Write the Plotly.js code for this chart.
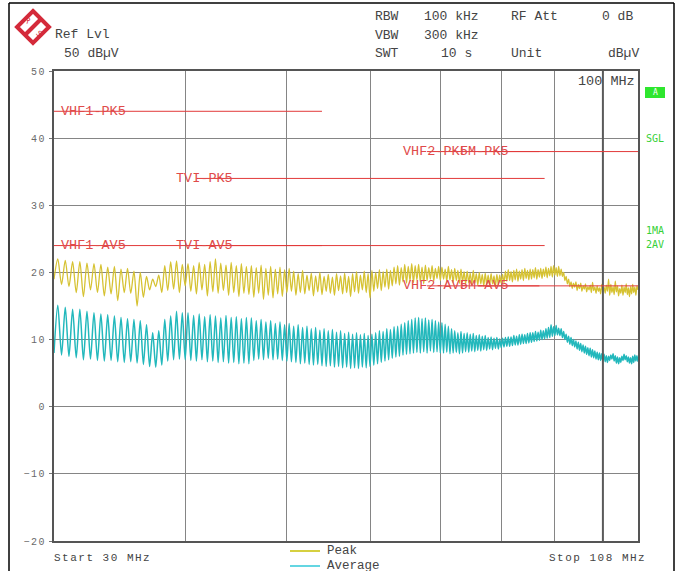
<!DOCTYPE html>
<html>
<head>
<meta charset="utf-8">
<script src="https://cdn.plot.ly/plotly-3.0.1.min.js"></script>
<style>
  html, body { margin: 0; padding: 0; background: #fff; }
  #chart { width: 683px; height: 571px; }
  .ytick text { letter-spacing: 1.5px; }
</style>
</head>
<body>
<div id="chart"></div>
<script>
// Sweep settings (MHz). Readings alternate trough / crest every half ripple period.
const sweepStart = 30;
const sweepStop = 108;
const sweepStep = 0.25;

// Average detector: troughs at 30, 30.5, ... 108 MHz
const avgLo = [
  8.0, 7.7, 7.5, 7.3, 7.0, 7.1, 6.9, 6.8, 6.9, 6.7, 6.6, 6.7, 6.5, 6.3, 6.0, 5.9, 6.2, 6.8, 7.0, 7.1, 7.0,
  6.9, 6.8, 7.0, 6.7, 6.8, 6.6, 6.7, 6.5, 6.6, 6.4, 6.5, 6.4,
  6.9, 7.1, 7.0, 7.2, 7.0, 7.1, 6.9, 6.8,
  6.7, 6.6, 6.4, 6.5, 6.3, 6.2, 6.3, 6.1, 6.0, 6.1, 5.9, 6.0, 5.8, 5.9, 5.7, 5.8, 5.7, 5.9, 5.8, 6.0,
  6.2, 6.4, 6.6, 6.8, 7.0, 7.2, 7.4, 7.5, 7.7, 7.8, 7.9, 8.0, 8.1, 8.0,
  8.2, 8.0, 8.3, 8.1, 8.2, 8.0,
  8.0, 8.1, 7.9, 8.0, 8.1, 7.9, 8.0, 8.2, 8.1, 8.3, 8.2, 8.4, 8.3, 8.5, 8.4, 8.6, 8.5, 8.7, 8.6, 8.8,
  8.9, 9.0, 9.0, 9.1, 9.2, 9.2, 9.3, 9.4, 9.4, 9.5, 9.6, 9.7, 9.8, 9.9, 10.0, 10.1, 10.2, 10.3, 10.5, 10.6, 10.7, 10.6,
  10.3, 10.0, 9.6, 9.3, 9.1, 8.9, 8.6, 8.4, 8.2, 8.0, 7.8, 7.6, 7.4, 7.3, 7.1, 7.0, 6.9, 6.8,
  6.7, 6.6, 6.9, 7.1, 6.8, 6.5, 6.4, 6.6, 6.9, 7.0, 6.7, 6.5, 6.4, 6.6, 6.8, 6.7
];
// Average detector: crests at 30.25, 30.75, ... 107.75 MHz
const avgHi = [
  15.1, 14.8, 14.5, 14.5, 14.2, 14.0, 13.8, 13.7, 13.5, 13.3, 13.1, 13.0, 12.8, 12.2, 11.0, 11.3, 13.0, 13.5, 14.2, 14.0,
  14.0, 13.6, 13.8, 13.4, 13.7, 13.5, 13.2, 13.6, 13.3, 13.4, 13.1, 13.3,
  13.2, 12.8, 13.0, 12.6, 12.8, 12.4, 12.6, 12.2, 12.4,
  12.0, 12.2, 11.8, 12.0, 11.6, 11.8, 11.4, 11.6, 11.3, 11.5, 11.1, 11.3, 10.9, 11.1, 10.8, 11.0, 10.7, 10.9, 10.6, 10.8,
  11.0, 11.3, 11.2, 11.6, 11.5, 11.9, 12.0, 12.3, 12.5, 12.8, 13.0, 13.2, 13.3,
  13.1, 13.2, 12.9, 13.0, 12.8, 12.6,
  12.5, 12.3, 12.0, 11.6, 11.3,
  11.0, 11.2, 10.9, 11.0, 10.8, 10.9, 10.6, 10.7, 10.5, 10.6, 10.3, 10.4, 10.2, 10.3, 10.1,
  10.2, 10.3, 10.4, 10.4, 10.6, 10.5, 10.7, 10.8, 10.7, 10.9, 11.0, 11.0, 11.2, 11.1, 11.4, 11.3, 11.6, 11.8, 12.2, 11.9, 12.1, 11.7,
  11.6, 11.2, 10.8, 10.5, 10.3, 10.0, 9.8, 9.6, 9.4, 9.2, 9.0, 8.8, 8.7, 8.5, 8.3, 8.1, 8.0, 7.9,
  7.8, 7.6, 7.5, 7.7, 7.9, 7.6, 7.4, 7.3, 7.5, 7.8, 7.6, 7.4, 7.3, 7.5, 7.7, 7.6
];

// Peak detector: troughs at 30, 30.5, ... 108 MHz
const pkLo = [
  19.0, 18.2, 17.9, 17.0, 16.4, 17.4, 17.0, 16.5, 16.8, 15.8, 17.0, 16.9, 15.0, 16.3, 17.4, 17.9, 17.0, 17.3, 17.5, 17.0, 18.0,
  17.2, 16.8, 17.4, 16.5, 17.1, 16.9, 17.3, 16.6, 17.0, 16.4, 16.9, 16.7,
  16.3, 16.9, 16.0, 16.6, 16.2, 16.8, 16.4, 17.0,
  17.2, 16.6, 17.0, 16.8, 17.3, 16.5, 17.1, 16.7, 17.2, 16.9, 16.6, 17.3, 16.8, 17.0, 16.4, 17.1, 16.9, 17.4, 17.0, 16.2,
  17.2, 17.6, 17.3, 17.8, 17.5, 18.0, 18.3, 18.1, 18.6, 18.4, 18.8, 18.5, 18.9, 18.6, 18.3, 18.8, 19.0, 18.7, 19.1, 18.8,
  19.0, 18.7, 18.9, 18.5, 18.8, 18.4, 18.6, 18.3, 18.5, 18.2, 18.4, 18.1, 18.3, 18.0, 18.2, 18.1, 18.3, 18.0, 18.2, 18.4,
  18.5, 18.7, 18.8, 18.6, 18.9, 18.7, 19.0, 18.8, 19.1, 18.9, 19.0, 19.2, 19.0, 19.3, 19.1, 19.4, 19.2, 19.5, 19.3, 19.6, 19.4, 19.5,
  19.4, 18.8, 18.3, 17.9, 17.6, 17.8, 17.3, 17.6, 17.2, 17.5, 17.1, 17.4, 17.0, 17.3, 16.9, 17.2, 16.8, 17.1,
  16.9, 17.2, 16.6, 17.0, 16.7, 17.1, 16.5, 16.9, 16.6, 17.0, 16.7, 16.4, 16.8, 17.0, 16.6, 17.4
];
// Peak detector: crests at 30.25, 30.75, ... 107.75 MHz
const pkHi = [
  22.0, 21.8, 21.6, 21.6, 21.4, 21.3, 21.2, 20.8, 20.9, 20.5, 20.6, 20.2, 20.0, 19.4, 19.0, 19.6, 21.0, 21.6, 21.7, 21.2,
  21.3, 21.0, 21.5, 21.2, 21.6, 22.0, 21.4, 21.1, 21.5, 21.0, 21.3, 20.9,
  21.0, 20.7, 21.1, 20.6, 20.9, 20.5, 20.8, 20.4, 20.6,
  20.2, 19.8, 20.3, 19.6, 19.9, 19.5, 20.0, 19.4, 19.7, 19.3, 19.8, 19.5, 19.9, 19.4, 19.8, 20.1, 19.6, 20.2, 19.8, 20.3,
  20.0, 20.4, 20.1, 20.5, 20.3, 20.8, 21.0, 20.7, 21.2, 20.9, 21.3, 21.0, 21.2, 20.8, 21.1, 20.7, 21.0, 20.6, 20.9,
  20.8, 20.5, 20.9, 20.4, 20.6, 20.3, 20.5, 20.1, 20.2, 19.9, 20.3, 19.8, 20.0, 19.7, 19.9, 19.6, 19.8, 19.5, 19.7, 19.6,
  19.7, 20.2, 20.4, 20.1, 20.3, 20.5, 20.2, 20.4, 20.6, 20.3, 20.5, 20.4, 20.7, 20.4, 20.6, 20.5, 20.8, 20.6, 20.9, 21.0, 20.7, 20.9,
  20.5, 20.0, 19.4, 19.0, 18.6, 18.4, 18.6, 18.2, 18.4, 18.0, 18.3, 17.9, 18.1, 18.5, 17.8, 18.0, 17.7, 18.2,
  17.8, 18.1, 19.0, 18.2, 17.9, 18.7, 18.0, 17.6, 18.1, 17.8, 18.3, 17.7, 17.9, 18.2, 17.8, 18.0
];

// Limit lines (CISPR 25 class 5), MHz / dBµV
const limitNames = ['VHF1-PK5', 'VHF1-AV5', 'TVI-PK5', 'TVI-AV5', 'VHF2-PK5', 'VHF2-AV5', 'FM-PK5', 'FM-AV5'];
const limitStart = [30, 30, 41, 41, 68, 68, 76, 76];
const limitStop  = [54, 54, 88, 88, 87, 87, 108, 108];
const limitLevel = [44, 24, 34, 24, 38, 18, 38, 18];

// Frequency grid lines and marker
const gridFreqs = [40, 50, 60, 70, 80, 90, 100];
const yTicks = [-20, -10, 0, 10, 20, 30, 40, 50];
const markerFreq = 100;

// ---- geometry of the screen ----
const L = 54, R = 638, T = 71, B = 541;
const px2x = p => (p - L) / (R - L);
const px2y = p => (B - p) / (B - T);
const MONO = "'Liberation Mono', 'DejaVu Sans Mono', monospace";

// Interleave trough and crest readings along the sweep
function sweep(lo, hi) {
  const f = [], v = [];
  for (let i = 0; i < lo.length; i++) {
    f.push(sweepStart + 2 * i * sweepStep); v.push(lo[i]);
    if (i < hi.length) { f.push(sweepStart + (2 * i + 1) * sweepStep); v.push(hi[i]); }
  }
  return { f, v };
}

const pk = sweep(pkLo, pkHi);
const av = sweep(avgLo, avgHi);

const traces = [
  { x: pk.f, y: pk.v, type: 'scatter', mode: 'lines', name: 'Peak',
    line: { color: '#d6c232', width: 1.3, shape: 'spline', smoothing: 0.8 }, hoverinfo: 'skip' },
  { x: av.f, y: av.v, type: 'scatter', mode: 'lines', name: 'Average',
    line: { color: '#22b8bc', width: 1.5, shape: 'spline', smoothing: 0.8 }, hoverinfo: 'skip' },
  { x: [markerFreq, markerFreq], y: [yTicks[0], yTicks[yTicks.length - 1]], type: 'scatter', mode: 'lines',
    line: { color: '#5a5a5a', width: 2 }, hoverinfo: 'skip' }
];
limitNames.forEach((n, i) => {
  traces.push({ x: [limitStart[i], limitStop[i]], y: [limitLevel[i], limitLevel[i]],
    type: 'scatter', mode: 'lines', name: n, line: { color: '#e23a3a', width: 1 }, hoverinfo: 'skip' });
});

function txt(text, px, py, font, extra) {
  return Object.assign({ text, xref: 'paper', yref: 'paper', x: px2x(px), y: px2y(py),
    xanchor: 'left', yanchor: 'middle', showarrow: false, borderpad: 0,
    font: Object.assign({ family: MONO, size: 13, color: '#444' }, font || {}) }, extra || {});
}

// limit label positions (screen px) for each limit line
const labelPx = [60, 60, 175, 175, 402, 402, 459, 459];
const annotations = limitNames.map((n, i) => ({
  text: n, xref: 'paper', yref: 'y', x: px2x(labelPx[i]), y: limitLevel[i],
  xanchor: 'left', yanchor: 'middle', showarrow: false, borderpad: 0,
  font: { family: MONO, size: 13.5, color: '#e04a4a' }
}));

annotations.push(
  // header
  txt('Ref Lvl', 54, 35),
  txt('50 dB\u00b5V', 63, 54),
  txt('RBW', 374, 17), txt('100 kHz', 423, 17), txt('RF Att', 510, 17), txt('0 dB', 601, 17),
  txt('VBW', 374, 36), txt('300 kHz', 423, 36),
  txt('SWT', 374, 54), txt('10 s', 440, 54), txt('Unit', 510, 54), txt('dB\u00b5V', 607, 54),
  // marker readout
  txt('100 MHz', 577, 81, { size: 13.5 }),
  // logo letters
  txt('R', 27, 21, { size: 8, color: '#d42a3a', family: 'DejaVu Sans' }, { xanchor: 'center', textangle: 45 }),
  txt('S', 39, 33, { size: 8, color: '#d42a3a', family: 'DejaVu Sans' }, { xanchor: 'center', textangle: 45 }),
  // right-hand status
  txt('A', 655, 93, { size: 8, color: '#ffffff', family: 'DejaVu Sans Mono' }, { xanchor: 'center' }),
  txt('SGL', 645, 138, { size: 10, color: '#36d036', family: 'DejaVu Sans Mono' }),
  txt('1MA', 645, 230, { size: 10, color: '#36d036', family: 'DejaVu Sans Mono' }),
  txt('2AV', 645, 244, { size: 10, color: '#36d036', family: 'DejaVu Sans Mono' }),
  // bottom
  txt('Start 30 MHz', 102, 558, { size: 11 }, { xanchor: 'center' }),
  txt('Stop 108 MHz', 597, 558, { size: 11 }, { xanchor: 'center' }),
  // legend
  txt('Peak', 326, 551, { size: 12.5 }),
  txt('Average', 326, 566, { size: 12.5 })
);

function seg(x0, y0, x1, y1, color, width) {
  return { type: 'line', xref: 'paper', yref: 'paper', x0: px2x(x0), y0: px2y(y0), x1: px2x(x1), y1: px2y(y1),
    line: { color, width } };
}
function pathPx(pts) {
  return pts.map((p, i) => (i ? 'L' : 'M') + px2x(p[0]).toFixed(5) + ',' + px2y(p[1]).toFixed(5)).join(' ') + ' Z';
}

const shapes = [
  // outer frame
  seg(9, 3, 674, 3, '#000', 1.5),
  seg(9, 3, 9, 571, '#000', 1.5),
  seg(674, 3, 674, 571, '#000', 1.5),
  // logo
  { type: 'path', xref: 'paper', yref: 'paper', path: pathPx([[33, 11], [49, 27], [33, 43], [17, 27]]),
    fillcolor: '#ffffff', line: { color: '#d42a3a', width: 4 } },
  seg(25, 35, 41, 19, '#d42a3a', 4),
  // status box
  { type: 'rect', xref: 'paper', yref: 'paper', x0: px2x(645), x1: px2x(665), y0: px2y(98), y1: px2y(87),
    fillcolor: '#2ee62e', line: { width: 0 } },
  // legend samples
  seg(290, 551, 320, 551, '#c8c000', 1.5),
  seg(290, 566, 320, 566, '#30c8d8', 1.5)
];

const layout = {
  width: 683, height: 571,
  margin: { l: L, r: 683 - R, t: T, b: 571 - B, pad: 0 },
  paper_bgcolor: '#ffffff', plot_bgcolor: '#ffffff',
  showlegend: false,
  xaxis: {
    type: 'log', range: [Math.log10(sweepStart), Math.log10(sweepStop)],
    tickmode: 'array', tickvals: gridFreqs, showticklabels: false, ticks: '',
    showgrid: true, gridcolor: '#858585', gridwidth: 1,
    showline: true, mirror: true, linecolor: '#555', linewidth: 2, zeroline: false, fixedrange: true
  },
  yaxis: {
    range: [yTicks[0], yTicks[yTicks.length - 1]], tickmode: 'array', tickvals: yTicks,
    ticks: 'outside', ticklen: 3, tickcolor: '#777', ticklabelstandoff: 1,
    tickfont: { family: MONO, size: 10, color: '#6a6a6a' },
    showgrid: true, gridcolor: '#858585', gridwidth: 1,
    showline: true, mirror: true, linecolor: '#555', linewidth: 2, zeroline: false, fixedrange: true
  },
  annotations, shapes
};

Plotly.newPlot('chart', traces, layout, { staticPlot: true, displayModeBar: false }).then(() => {
  document.querySelectorAll('.annotation-text').forEach(t => {
    if (/^(Start|Stop)/.test(t.textContent)) t.style.letterSpacing = '1.5px';
  });
});
</script>
</body>
</html>
